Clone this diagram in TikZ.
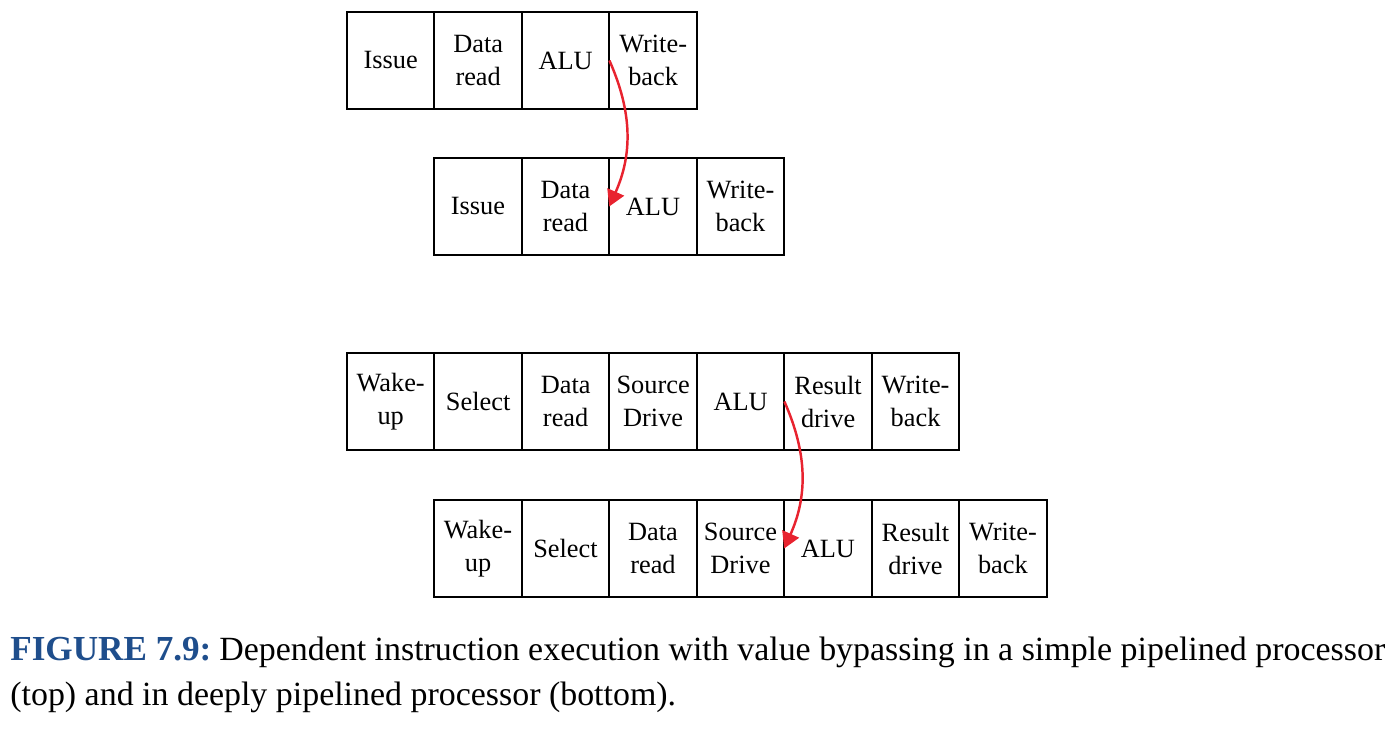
\documentclass[tikz,border=0pt]{standalone}
\usepackage{fontspec}
\setmainfont{Liberation Serif}
\usepackage{tikz}
\usetikzlibrary{positioning,arrows.meta}
\definecolor{bypassred}{HTML}{E8232F}
\definecolor{figblue}{HTML}{1F4E8C}

\begin{document}
\begin{tikzpicture}[x=0.02cm,y=-0.02cm,
    stage/.style={draw,line width=1.1pt,outer sep=0pt,
        minimum width=1.75cm,minimum height=1.94cm,
        align=center,font=\fontsize{15}{18.8}\selectfont},
    bypass/.style={draw=bypassred,line width=1.4pt,
        -{Triangle[length=0.32cm,width=0.36cm]},bend left=24}]

\useasboundingbox (0,0) rectangle (1390,740);

% simple pipeline
\node[stage] (t1) at (390.7,60.5) {Issue};
\node[stage,right=0pt of t1] (t2) {Data\\read};
\node[stage,right=0pt of t2] (t3) {ALU};
\node[stage,right=0pt of t3] (t4) {Write-\\back};

\node[stage] (u1) at (478,206.5) {Issue};
\node[stage,right=0pt of u1] (u2) {Data\\read};
\node[stage,right=0pt of u2] (u3) {ALU};
\node[stage,right=0pt of u3] (u4) {Write-\\back};

% deep pipeline
\node[stage] (p1) at (390.7,401.5) {Wake-\\up};
\node[stage,right=0pt of p1] (p2) {Select};
\node[stage,right=0pt of p2] (p3) {Data\\read};
\node[stage,right=0pt of p3] (p4) {Source\\Drive};
\node[stage,right=0pt of p4] (p5) {ALU};
\node[stage,right=0pt of p5] (p6) {Result\\drive};
\node[stage,right=0pt of p6] (p7) {Write-\\back};

\node[stage] (q1) at (478,548.5) {Wake-\\up};
\node[stage,right=0pt of q1] (q2) {Select};
\node[stage,right=0pt of q2] (q3) {Data\\read};
\node[stage,right=0pt of q3] (q4) {Source\\Drive};
\node[stage,right=0pt of q4] (q5) {ALU};
\node[stage,right=0pt of q5] (q6) {Result\\drive};
\node[stage,right=0pt of q6] (q7) {Write-\\back};

\draw[bypass] (t3.east) to (u3.west);
\draw[bypass] (p5.east) to (q5.west);

\node[anchor=base west,align=left,inner sep=0pt,
    font=\fontsize{19.3}{25.5}\selectfont] (caption) at (10,705)
    {{\color{figblue}\fontsize{20}{25.5}\selectfont\bfseries FIGURE 7.9:}\hspace{-0.1em} Dependent instruction execution with value bypassing in a simple pipelined processor\\
    (top) and in deeply pipelined processor (bottom).};

\end{tikzpicture}
\end{document}
